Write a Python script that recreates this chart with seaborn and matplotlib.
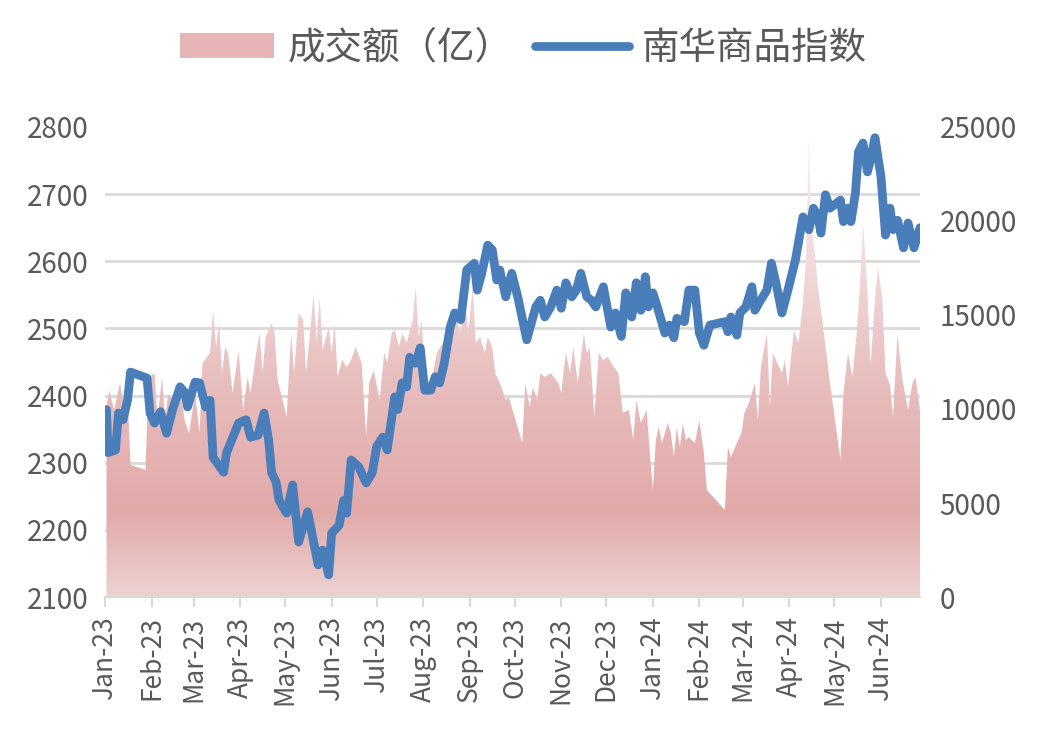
import numpy as np
import pandas as pd
import matplotlib
matplotlib.use("Agg")
import matplotlib.pyplot as plt
import matplotlib.dates as mdates
import seaborn as sns
from matplotlib.colors import LinearSegmentedColormap
from matplotlib.patches import Patch
from matplotlib.lines import Line2D
from matplotlib.ticker import FixedLocator

# 南华商品指数 (left axis)
idx_dates = [
    '2023-01-02', '2023-01-03', '2023-01-08', '2023-01-10', '2023-01-13', '2023-01-16', '2023-01-18',
    '2023-01-29', '2023-01-31', '2023-02-03', '2023-02-07', '2023-02-11', '2023-02-15', '2023-02-20',
    '2023-02-23', '2023-02-25', '2023-03-02', '2023-03-05', '2023-03-09', '2023-03-12', '2023-03-14',
    '2023-03-21', '2023-03-23', '2023-03-31', '2023-04-05', '2023-04-08', '2023-04-13', '2023-04-17',
    '2023-04-20', '2023-04-22', '2023-04-25', '2023-04-27', '2023-05-02', '2023-05-06', '2023-05-10',
    '2023-05-16', '2023-05-23', '2023-05-26', '2023-05-30', '2023-06-01', '2023-06-06', '2023-06-09',
    '2023-06-11', '2023-06-14', '2023-06-19', '2023-06-24', '2023-06-28', '2023-07-01', '2023-07-05',
    '2023-07-08', '2023-07-13', '2023-07-15', '2023-07-18', '2023-07-21', '2023-07-23', '2023-07-27',
    '2023-07-30', '2023-08-02', '2023-08-06', '2023-08-09', '2023-08-12', '2023-08-15', '2023-08-19',
    '2023-08-22', '2023-08-26', '2023-08-30', '2023-09-04', '2023-09-06', '2023-09-09', '2023-09-13',
    '2023-09-16', '2023-09-19', '2023-09-21', '2023-09-25', '2023-09-29', '2023-10-03', '2023-10-09',
    '2023-10-15', '2023-10-18', '2023-10-21', '2023-10-25', '2023-10-29', '2023-11-01', '2023-11-04',
    '2023-11-08', '2023-11-11', '2023-11-14', '2023-11-18', '2023-11-21', '2023-11-24', '2023-11-29',
    '2023-12-04', '2023-12-07', '2023-12-11', '2023-12-14', '2023-12-18', '2023-12-21', '2023-12-24',
    '2023-12-27', '2023-12-29', '2024-01-01', '2024-01-04', '2024-01-09', '2024-01-12', '2024-01-15',
    '2024-01-17', '2024-01-22', '2024-01-25', '2024-01-29', '2024-02-01', '2024-02-04', '2024-02-08',
    '2024-02-18', '2024-02-20', '2024-02-22', '2024-02-26', '2024-02-28', '2024-03-03', '2024-03-07',
    '2024-03-09', '2024-03-12', '2024-03-17', '2024-03-20', '2024-03-23', '2024-03-27', '2024-03-31',
    '2024-04-05', '2024-04-10', '2024-04-14', '2024-04-17', '2024-04-20', '2024-04-22', '2024-04-25',
    '2024-04-28', '2024-05-05', '2024-05-07', '2024-05-10', '2024-05-12', '2024-05-15', '2024-05-17',
    '2024-05-20', '2024-05-23', '2024-05-25', '2024-05-28', '2024-06-01', '2024-06-04', '2024-06-07',
    '2024-06-09', '2024-06-12', '2024-06-16', '2024-06-19', '2024-06-23', '2024-06-27',
]
idx_values = [
    2379, 2315, 2319, 2374, 2364, 2393, 2435,
    2426, 2374, 2359, 2376, 2344, 2379, 2413,
    2405, 2383, 2420, 2419, 2383, 2393, 2308,
    2286, 2315, 2359, 2364, 2338, 2341, 2374,
    2334, 2285, 2271, 2244, 2225, 2267, 2182,
    2227, 2148, 2170, 2133, 2195, 2207, 2244,
    2225, 2304, 2294, 2270, 2285, 2324, 2338,
    2319, 2398, 2379, 2419, 2413, 2457, 2448,
    2471, 2408, 2408, 2428, 2419, 2448, 2502,
    2523, 2513, 2587, 2597, 2557, 2582, 2624,
    2617, 2572, 2587, 2547, 2582, 2547, 2483,
    2532, 2542, 2517, 2532, 2557, 2530, 2568,
    2547, 2557, 2582, 2547, 2542, 2532, 2562,
    2502, 2523, 2488, 2553, 2517, 2568, 2527,
    2577, 2532, 2553, 2532, 2493, 2505, 2486,
    2515, 2510, 2557, 2557, 2493, 2475, 2505,
    2510, 2495, 2517, 2490, 2523, 2532, 2562,
    2527, 2539, 2557, 2597, 2568, 2523, 2557,
    2602, 2666, 2647, 2679, 2666, 2642, 2699,
    2679, 2691, 2659, 2679, 2659, 2702, 2763,
    2776, 2733, 2751, 2784, 2726, 2639, 2679,
    2647, 2661, 2620, 2657, 2620, 2650,
]

# 成交额（亿） (right axis)
amt_dates = [
    '2023-01-02', '2023-01-04', '2023-01-07', '2023-01-11', '2023-01-14', '2023-01-16', '2023-01-18',
    '2023-01-28', '2023-01-30', '2023-02-03', '2023-02-05', '2023-02-08', '2023-02-10', '2023-02-12',
    '2023-02-16', '2023-02-20', '2023-02-23', '2023-02-26', '2023-03-02', '2023-03-05', '2023-03-07',
    '2023-03-10', '2023-03-12', '2023-03-14', '2023-03-16', '2023-03-18', '2023-03-20', '2023-03-22',
    '2023-03-24', '2023-03-27', '2023-03-31', '2023-04-03', '2023-04-06', '2023-04-08', '2023-04-12',
    '2023-04-14', '2023-04-16', '2023-04-18', '2023-04-22', '2023-04-24', '2023-04-26', '2023-05-02',
    '2023-05-05', '2023-05-07', '2023-05-10', '2023-05-13', '2023-05-15', '2023-05-18', '2023-05-20',
    '2023-05-22', '2023-05-24', '2023-05-26', '2023-05-30', '2023-06-01', '2023-06-03', '2023-06-05',
    '2023-06-08', '2023-06-11', '2023-06-14', '2023-06-17', '2023-06-21', '2023-06-24', '2023-06-26',
    '2023-06-29', '2023-07-03', '2023-07-06', '2023-07-08', '2023-07-11', '2023-07-13', '2023-07-16',
    '2023-07-18', '2023-07-21', '2023-07-25', '2023-07-27', '2023-07-29', '2023-07-31', '2023-08-02',
    '2023-08-06', '2023-08-10', '2023-08-14', '2023-08-17', '2023-08-20', '2023-08-22', '2023-08-26',
    '2023-08-29', '2023-08-31', '2023-09-03', '2023-09-05', '2023-09-08', '2023-09-11', '2023-09-13',
    '2023-09-16', '2023-09-18', '2023-09-21', '2023-09-25', '2023-09-27', '2023-10-06', '2023-10-08',
    '2023-10-11', '2023-10-13', '2023-10-16', '2023-10-18', '2023-10-21', '2023-10-25', '2023-10-30',
    '2023-11-01', '2023-11-04', '2023-11-07', '2023-11-09', '2023-11-12', '2023-11-16', '2023-11-18',
    '2023-11-20', '2023-11-23', '2023-11-26', '2023-11-29', '2023-12-02', '2023-12-06', '2023-12-09',
    '2023-12-12', '2023-12-16', '2023-12-19', '2023-12-21', '2023-12-24', '2023-12-28', '2023-12-29',
    '2024-01-01', '2024-01-03', '2024-01-05', '2024-01-07', '2024-01-11', '2024-01-13', '2024-01-15',
    '2024-01-17', '2024-01-19', '2024-01-21', '2024-01-23', '2024-01-25', '2024-01-29', '2024-02-01',
    '2024-02-04', '2024-02-06', '2024-02-18', '2024-02-20', '2024-02-22', '2024-02-26', '2024-02-29',
    '2024-03-02', '2024-03-05', '2024-03-09', '2024-03-11', '2024-03-13', '2024-03-17', '2024-03-19',
    '2024-03-21', '2024-03-23', '2024-03-27', '2024-03-29', '2024-03-31', '2024-04-04', '2024-04-07',
    '2024-04-10', '2024-04-12', '2024-04-14', '2024-04-15', '2024-04-17', '2024-04-18', '2024-04-20',
    '2024-04-24', '2024-04-28', '2024-05-05', '2024-05-07', '2024-05-10', '2024-05-13', '2024-05-16',
    '2024-05-18', '2024-05-20', '2024-05-23', '2024-05-25', '2024-05-28', '2024-05-30', '2024-06-02',
    '2024-06-04', '2024-06-07', '2024-06-09', '2024-06-12', '2024-06-15', '2024-06-19', '2024-06-22',
    '2024-06-24', '2024-06-27',
]
amt_values = [
    10200, 11000, 9950, 11380, 9950, 10740, 7020,
    6760, 11650, 11910, 9410, 11700, 9410, 10740,
    10480, 11010, 9410, 8720, 10850, 8720, 12450,
    12770, 12980, 15270, 13300, 14570, 11910, 13300,
    12980, 10850, 13140, 9950, 11700, 10850, 13140,
    14040, 11910, 13830, 14570, 14040, 11540, 9570,
    14040, 11910, 15110, 14730, 11910, 14360, 16170,
    13510, 15960, 13140, 14360, 12980, 14570, 11700,
    12610, 12230, 12610, 13300, 12450, 8510, 11380,
    12070, 10480, 12980, 12450, 14040, 14200, 13300,
    14040, 13510, 14730, 16490, 13830, 14730, 11910,
    11170, 12980, 13510, 13300, 13670, 15110, 14040,
    15800, 14040, 16490, 13510, 13830, 12980, 13830,
    13300, 11910, 11380, 10480, 10640, 8190, 11380,
    10110, 11170, 10480, 11910, 11700, 11910, 11380,
    10850, 12980, 11910, 13300, 11380, 14040, 12980,
    13300, 9570, 12980, 12610, 12770, 12230, 11910,
    9790, 9950, 8350, 10480, 9260, 9950, 8720,
    5690, 8350, 9040, 8190, 9260, 8720, 7450,
    9040, 7980, 9260, 8350, 8510, 8190, 9410,
    7660, 5690, 4630, 7980, 7450, 8190, 8720,
    9790, 10320, 11380, 9410, 12230, 14040, 10110,
    12980, 12610, 11910, 12610, 11170, 14200, 13510,
    15640, 17930, 24500, 20960, 18830, 18300, 16490,
    14040, 11380, 7290, 10850, 12980, 11700, 14200,
    16490, 20000, 16170, 12230, 15800, 17550, 15800,
    11910, 11280, 9570, 14040, 11700, 9950, 11380,
    11700, 9950,
]

left_ticks = [2100, 2200, 2300, 2400, 2500, 2600, 2700, 2800]
right_ticks = [0, 5000, 10000, 15000, 20000, 25000]
legend_labels = ['成交额（亿）', '南华商品指数']

line_color = '#4a7ebb'
text_color = '#595959'
grid_color = '#d9d9d9'

sns.set_theme(style='white')
plt.rcParams['font.family'] = ['Noto Sans CJK SC', 'DejaVu Sans']

idx_df = pd.DataFrame({'date': pd.to_datetime(idx_dates), 'index': idx_values})
amt_df = pd.DataFrame({'date': pd.to_datetime(amt_dates), 'amount': amt_values})

fig = plt.figure(figsize=(10.47, 7.38), dpi=100)
ax = fig.add_axes([0.1003, 0.191, 0.7784, 0.637])
ax2 = ax.twinx()

# area with a vertical pink gradient, clipped to the filled shape
x0 = pd.Timestamp('2023-01-01')
x1 = amt_df['date'].iloc[-1]
poly = ax2.fill_between(amt_df['date'], 0, amt_df['amount'],
                        facecolor='none', edgecolor='none', zorder=1)
cmap = LinearSegmentedColormap.from_list(
    'pinkfade',
    [(0.0, '#eed2d2'), (0.18, '#e2a9a9'), (0.45, '#e8bdbd'),
     (0.7, '#f2d9d9'), (1.0, '#fbf0f0')])
grad = np.linspace(0, 1, 256).reshape(-1, 1)
img = ax2.imshow(grad, cmap=cmap, aspect='auto', origin='lower',
                 extent=[mdates.date2num(x0), mdates.date2num(x1), 0, 25000],
                 zorder=1, interpolation='bilinear')
img.set_clip_path(poly.get_paths()[0], transform=ax2.transData)

# index line on the left axis
sns.lineplot(data=idx_df, x='date', y='index', ax=ax, color=line_color,
             linewidth=6.3, legend=False, solid_joinstyle='round',
             solid_capstyle='round')

ax.set_zorder(ax2.get_zorder() + 1)
ax.patch.set_visible(False)

ax.set_xlim(x0, x1)
ax.set_ylim(2100, 2800)
ax2.set_ylim(0, 25000)
ax.set_yticks(left_ticks)
ax2.set_yticks(right_ticks)

# grid lines sit behind the area, at the left-axis tick heights
ax2.yaxis.set_minor_locator(FixedLocator(np.linspace(0, 25000, len(left_ticks))))
ax2.grid(which='minor', axis='y', color=grid_color, linewidth=2)
ax2.grid(which='major', visible=False)
ax2.set_axisbelow(True)
ax.grid(False)

ax.xaxis.set_major_locator(mdates.MonthLocator())
ax.xaxis.set_major_formatter(mdates.DateFormatter('%b-%y'))
ax.set_xlabel('')
ax.set_ylabel('')
ax2.set_ylabel('')

for s in ax.spines.values():
    s.set_visible(False)
for s in ax2.spines.values():
    s.set_visible(False)
ax.spines['bottom'].set_visible(True)
ax.spines['bottom'].set_color(grid_color)
ax.spines['bottom'].set_linewidth(1.5)

ax.tick_params(axis='x', bottom=True, length=7, width=1.5, color=grid_color,
               labelcolor=text_color, labelsize=19, pad=7, labelrotation=90)
ax.tick_params(axis='y', length=0, labelcolor=text_color, labelsize=20, pad=12)
ax2.tick_params(axis='y', which='both', length=0, labelcolor=text_color,
                labelsize=20, pad=14)

handles = [Patch(facecolor='#e6b5b5', edgecolor='none'),
           Line2D([], [], color=line_color, linewidth=6.3, solid_capstyle='round')]
fig.legend(handles, legend_labels, loc='center', bbox_to_anchor=(0.5, 0.935),
           ncol=2, frameon=False, fontsize=27, handlelength=2.5, handleheight=0.65,
           columnspacing=0.6, handletextpad=0.35, labelcolor=text_color)

fig.savefig('out.png', dpi=100)
